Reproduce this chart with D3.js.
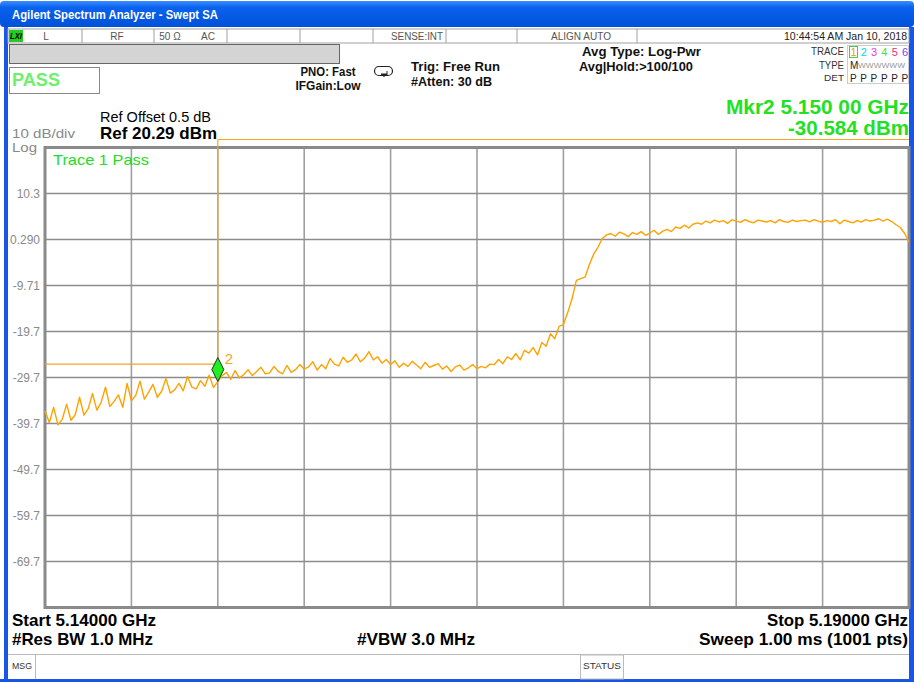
<!DOCTYPE html>
<html><head><meta charset="utf-8">
<script src="https://cdn.jsdelivr.net/npm/d3@7"></script>
<style>html,body{margin:0;padding:0;background:#fff;}svg{display:block;}</style>
</head><body>
<script>
// ---------- data ----------
const freqStartGHz = 5.14;
const freqStopGHz = 5.19;
const refLevel = 20.29;
const dbPerDiv = 10;
const yTickLabels = ["10.3","0.290","-9.71","-19.7","-29.7","-39.7","-49.7","-59.7","-69.7"];
const xDivisions = [0,1,2,3,4,5,6,7,8,9,10];
const markerFreqGHz = 5.150;
const markerDbm = -30.584;
const markerLineDbm = -26.8;
// trace values (dBm), read every 0.25 MHz from 5.140 to 5.190 GHz
const traceDbm = [
-37.0,-39.5,-36.2,-40.0, -38.8,-35.5,-39.0,-37.8, -34.0,-37.9,-36.5,-33.2, -36.8,-35.1,-31.8,-36.0,
-34.9,-33.5,-36.2,-31.0, -34.8,-33.6,-30.5,-34.4, -32.9,-31.2,-34.0,-32.7, -29.9,-33.1,-32.4,-31.0,
-32.6,-29.5,-31.8,-32.2, -30.4,-31.6,-29.2,-31.9, -30.6,-29.3,-28.6,-30.1, -28.2,-29.8,-29.1,-28.0,
-29.3,-28.4,-27.5,-28.9, -28.7,-27.3,-28.4,-28.9, -27.1,-28.6,-28.0,-26.9, -27.9,-27.4,-26.3,-28.1,
-26.9,-27.8,-25.6,-26.8, -27.2,-25.3,-26.4,-25.9, -24.6,-26.3,-25.5,-24.1, -25.9,-25.2,-26.6,-25.8,
-26.9,-26.1,-27.5,-26.6, -27.3,-26.2,-27.0,-27.8, -26.4,-27.5,-27.1,-26.7, -27.9,-27.2,-28.4,-27.4,
-27.0,-28.1,-27.6,-26.9, -27.8,-27.3,-27.6,-26.8, -26.9,-25.8,-26.7,-25.2, -25.8,-24.5,-25.9,-23.8,
-24.4,-23.2,-24.8,-22.1, -22.9,-20.2,-21.3,-18.6, -18.2,-15.6,-12.6,-8.6, -8.2,-7.9,-5.2,-2.9,
-1.4,0.5,1.3,1.6, 1.0,1.9,1.5,0.9, 1.8,1.4,2.0,1.2, 1.7,2.3,1.4,2.1,
2.5,2.0,3.0,2.7, 3.4,2.8,3.6,3.9, 3.6,4.3,3.9,4.5, 4.1,4.4,3.8,4.6,
4.3,4.0,4.6,4.2, 3.9,4.5,4.3,4.1, 4.4,3.9,4.6,4.2, 4.0,4.5,4.2,4.4,
4.5,4.1,4.6,4.3, 4.0,4.4,4.2,4.6, 3.7,4.5,4.2,3.9, 4.4,4.1,4.6,4.3,
4.5,4.8,4.3,4.7, 4.2,3.5,2.9,1.6, -0.3
];
const statusCells = [82,154,227,300,373,446,517,637];
const traceDigits = ["1","2","3","4","5","6"];
const traceDigitColors = ["#f0a000","#00d8f0","#e040e0","#40e040","#f03070","#8040f0"];

// ---------- drawing ----------
const W = 914, H = 682;
const FONT = "'Liberation Sans', Arial, sans-serif";
const svg = d3.select("body").append("svg").attr("width", W).attr("height", H);
const defs = svg.append("defs");
const g1 = defs.append("linearGradient").attr("id","tb").attr("x1",0).attr("y1",0).attr("x2",0).attr("y2",1);
g1.append("stop").attr("offset","0%").attr("stop-color","#3c8dff");
g1.append("stop").attr("offset","25%").attr("stop-color","#0a62ee");
g1.append("stop").attr("offset","100%").attr("stop-color","#0051d8");

function txt(x, y, s, o = {}) {
  const t = svg.append("text").attr("x", x).attr("y", y).text(s)
    .attr("font-family", o.family || FONT)
    .attr("font-size", o.size || 12)
    .attr("font-weight", o.weight || "normal")
    .attr("fill", o.fill || "#000")
    .attr("text-anchor", o.anchor || "start")
    .attr("dominant-baseline", "central");
  if (o.style) t.attr("font-style", o.style);
  if (o.len) t.attr("textLength", o.len).attr("lengthAdjust", "spacingAndGlyphs");
  return t;
}

// window frame
svg.append("rect").attr("x",0).attr("y",0).attr("width",W).attr("height",H).attr("fill","#fff");
svg.append("rect").attr("x",0).attr("y",1).attr("width",W).attr("height",26).attr("rx",4).attr("fill","url(#tb)");
txt(12, 15, "Agilent Spectrum Analyzer - Swept SA", {fill:"#fff", weight:"bold", size:12, len:206});
svg.append("rect").attr("x",4).attr("y",27).attr("width",4).attr("height",H-27).attr("fill","#1a56e6");
svg.append("rect").attr("x",909).attr("y",27).attr("width",5).attr("height",H-27).attr("fill","#1a56e6");
svg.append("rect").attr("x",0).attr("y",679).attr("width",W).attr("height",3).attr("fill","#1a56e6");

// status row
svg.append("rect").attr("x",8).attr("y",29).attr("width",901).attr("height",14).attr("fill","#fff").attr("stroke","#a0a0a0");
statusCells.forEach(x => svg.append("line").attr("x1",x).attr("x2",x).attr("y1",29).attr("y2",43).attr("stroke","#a0a0a0"));
svg.append("rect").attr("x",9).attr("y",30).attr("width",14).attr("height",12).attr("fill","#22cc22");
txt(10, 36, "LXI", {size:9, weight:"bold", style:"italic", fill:"#000", len:12});
const sc = {size:10, fill:"#555"};
txt(46, 36, "L", {...sc, anchor:"middle"});
txt(117, 36, "RF", {...sc, anchor:"middle"});
txt(170, 36, "50 Ω", {...sc, anchor:"middle"});
txt(208, 36, "AC", {...sc, anchor:"middle"});
txt(417, 36, "SENSE:INT", {...sc, anchor:"middle", len:52});
txt(581, 36, "ALIGN AUTO", {...sc, anchor:"middle", len:60});
txt(907, 36, "10:44:54 AM Jan 10, 2018", {...sc, anchor:"end", fill:"#222", len:123});

// grey bar and PASS box
svg.append("rect").attr("x",9.5).attr("y",44.5).attr("width",330).attr("height",19).attr("fill","#d4d4d4").attr("stroke","#666");
svg.append("rect").attr("x",9.5).attr("y",67.5).attr("width",90).attr("height",26).attr("fill","#fff").attr("stroke","#888");
txt(12, 80, "PASS", {size:18, weight:"bold", fill:"#6ef06e", len:48});

// settings texts
const b11 = {size:12, weight:"bold", fill:"#111"};
txt(328, 72, "PNO: Fast", {...b11, anchor:"middle", len:55});
txt(328, 86, "IFGain:Low", {...b11, anchor:"middle", len:65});
svg.append("rect").attr("x",374.5).attr("y",66.5).attr("width",18).attr("height",9).attr("rx",4.5).attr("fill","#fff").attr("stroke","#222").attr("stroke-width",1.2);
svg.append("path").attr("d","M381,74 L387,74 L384,76.5 Z M387,71 L387,76").attr("fill","#222").attr("stroke","#222");
txt(411, 67, "Trig: Free Run", {...b11, len:89});
txt(411, 82, "#Atten: 30 dB", {...b11, len:81});
txt(582, 52, "Avg Type: Log-Pwr", {...b11, len:119});
txt(579, 67, "Avg|Hold:>100/100", {...b11, len:114});

// trace info block
const t9 = {size:10, fill:"#333", anchor:"end"};
txt(844, 51, "TRACE", {...t9, len:33});
txt(844, 65, "TYPE", {...t9, len:25});
txt(844, 78, "DET", {...t9, size:9, len:20});
svg.append("rect").attr("x",847.5).attr("y",45.5).attr("width",61).attr("height",38).attr("fill","#fff").attr("stroke","#ccc");
svg.append("rect").attr("x",849.5).attr("y",46.5).attr("width",8).attr("height",11).attr("fill","none").attr("stroke","#4c4");
traceDigits.forEach((d,i) => {
  txt(853.5 + i*10.3, 52, d, {size:11, fill:traceDigitColors[i], anchor:"middle"});
  txt(850 + i*10.3, 78, "P", {size:10, fill:"#222"});
});
txt(850, 65, "M", {size:10, fill:"#222"});
txt(858, 65, "WWWWWW", {size:7, fill:"#999", len:47});

// reference texts
txt(100, 117, "Ref Offset 0.5 dB", {size:14, fill:"#000", len:111});
txt(100, 133, "Ref 20.29 dBm", {size:17, weight:"bold", fill:"#000", len:117});
txt(12, 134, "10 dB/div", {size:12, fill:"#888", len:63});
txt(12, 147.5, "Log", {size:12, fill:"#888", len:25});
txt(726, 107, "Mkr2 5.150 00 GHz", {size:20, weight:"bold", fill:"#22e022", len:183});
txt(788, 128, "-30.584 dBm", {size:20, weight:"bold", fill:"#22e022", len:121});

// scales
const x0 = 45, x1 = 909, y0 = 147.5, y1 = 607.5;
const x = d3.scaleLinear().domain([freqStartGHz, freqStopGHz]).range([x0, x1]);
const y = d3.scaleLinear().domain([refLevel - 10*dbPerDiv, refLevel]).range([y1, y0]);
const divFreq = (freqStopGHz - freqStartGHz) / 10;

// grid
const gridG = svg.append("g");
xDivisions.slice(1,-1).forEach(k => {
  gridG.append("line").attr("x1", x(freqStartGHz + k*divFreq)).attr("x2", x(freqStartGHz + k*divFreq))
    .attr("y1", y0).attr("y2", y1).attr("stroke","#a0a0a0").attr("stroke-width",1.6);
});
xDivisions.slice(1,-1).forEach(k => {
  const v = refLevel - k*dbPerDiv;
  gridG.append("line").attr("x1", x0).attr("x2", x1).attr("y1", y(v)).attr("y2", y(v))
    .attr("stroke","#8c8c8c").attr("stroke-width",1.4);
});
svg.append("rect").attr("x",x0).attr("y",y0).attr("width",x1-x0).attr("height",y1-y0)
  .attr("fill","none").attr("stroke","#8a8a8a").attr("stroke-width",3);

// y axis labels
const tickVals = yTickLabels.map((_,i) => refLevel - (i+1)*dbPerDiv);
const yAxis = d3.axisLeft(y).tickValues(tickVals).tickSize(0).tickPadding(4)
  .tickFormat((d,i) => yTickLabels[i]);
const ag = svg.append("g").attr("transform", `translate(${x0-1},0)`).call(yAxis);
ag.select(".domain").remove();
ag.selectAll("text").attr("font-family", FONT).attr("font-size", 12).attr("fill", "#8a8a8a");

txt(53, 159, "Trace 1 Pass", {size:15, fill:"#22dd22", len:96});

// marker lines
const mx = x(markerFreqGHz), my = y(markerDbm);
const mkColor = "#f5a623";
svg.append("line").attr("x1", mx).attr("x2", x1).attr("y1", 139.5).attr("y2", 139.5).attr("stroke", mkColor).attr("stroke-width",1.2);
svg.append("line").attr("x1", mx).attr("x2", mx).attr("y1", 139.5).attr("y2", my - 20).attr("stroke", mkColor).attr("stroke-width",1.2);
svg.append("line").attr("x1", x0).attr("x2", mx).attr("y1", y(markerLineDbm)).attr("y2", y(markerLineDbm)).attr("stroke", mkColor).attr("stroke-width",1.2);

// trace
const traceData = traceDbm.map((v,i) => ({f: freqStartGHz + i*(freqStopGHz-freqStartGHz)/(traceDbm.length-1), v}));
const line = d3.line().x(d => x(d.f)).y(d => y(d.v)).curve(d3.curveLinear);
svg.append("path").datum(traceData).attr("d", line).attr("fill","none")
  .attr("stroke","#ffa200").attr("stroke-width",1.4).attr("stroke-linejoin","round");

// marker diamond
svg.append("path").attr("d", `M${mx},${my} L${mx+6},${my-12} L${mx},${my-24} L${mx-6},${my-12} Z`)
  .attr("fill","#22ee22").attr("stroke","#1a3a1a").attr("stroke-width",1);
txt(mx+7, my-23, "2", {size:15, fill:mkColor});

// bottom texts
const bb = {size:17, weight:"bold", fill:"#000"};
txt(12, 620, "Start 5.14000 GHz", {...bb, len:144});
txt(12, 639, "#Res BW 1.0 MHz", {...bb, len:141});
txt(357, 639, "#VBW 3.0 MHz", {...bb, len:118});
txt(908, 620, "Stop 5.19000 GHz", {...bb, anchor:"end", len:141});
txt(908, 639, "Sweep  1.00 ms (1001 pts)", {...bb, anchor:"end", len:209});

// message row
svg.append("line").attr("x1",8).attr("x2",909).attr("y1",654.5).attr("y2",654.5).attr("stroke","#bbb");
svg.append("line").attr("x1",35.5).attr("x2",35.5).attr("y1",655).attr("y2",679).attr("stroke","#bbb");
txt(12, 666, "MSG", {size:9, fill:"#333", len:20});
svg.append("rect").attr("x",580.5).attr("y",655).attr("width",43).attr("height",24).attr("fill","none").attr("stroke","#bbb");
txt(583, 666, "STATUS", {size:9, fill:"#333", len:38});
</script>
</body></html>
